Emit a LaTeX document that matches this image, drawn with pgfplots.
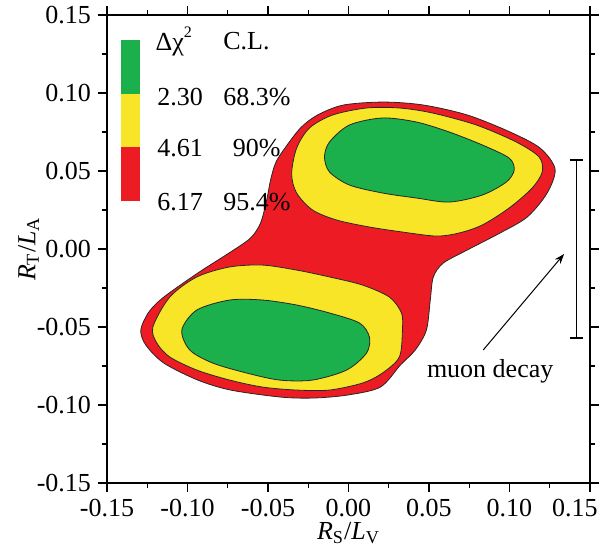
\documentclass[border=0pt]{standalone}
\usepackage{fontspec}
\setmainfont{Liberation Serif}
\usepackage{pgfplots}
\pgfplotsset{compat=1.18}
\usetikzlibrary{arrows.meta}

\definecolor{clred}{HTML}{ED1C24}
\definecolor{clyellow}{HTML}{F8E528}
\definecolor{clgreen}{HTML}{1BB04B}

\newcommand{\lblfont}{\fontsize{13}{15}\selectfont}
\tikzset{keytext/.style={font=\lblfont, anchor=west, inner sep=0pt}}

\begin{document}
\begin{tikzpicture}
\begin{axis}[
  scale only axis,
  width=241.5pt, height=234pt,
  xmin=-0.15, xmax=0.15, ymin=-0.15, ymax=0.15,
  xtick={-0.15,-0.10,-0.05,0,0.05,0.10,0.15},
  ytick={-0.15,-0.10,-0.05,0,0.05,0.10,0.15},
  xticklabels={-0.15,-0.10,-0.05,0.00,0.05,0.10,\hspace*{-15pt}0.15},
  minor tick num=1,
  tick align=outside,
  major tick length=4.5pt, minor tick length=2.5pt,
  axis line style={line width=0.6pt},
  every tick/.style={black, line width=0.6pt},
  tick label style={font=\lblfont},
  /pgf/number format/fixed,
  /pgf/number format/fixed zerofill,
  /pgf/number format/precision=2,
  /pgf/number format/assume math mode=true,
  scaled ticks=false,
  xlabel={\textit{R}\textsubscript{S}/\textit{L}\textsubscript{V}},
  ylabel={\textit{R}\textsubscript{T}/\textit{L}\textsubscript{A}},
  label style={font=\lblfont},
  xlabel style={yshift=4pt},
  ylabel style={yshift=-8pt},
]
% 95.4% C.L. region (outer contour)
\addplot[fill=clred, draw=black!85, line width=0.4pt, smooth cycle] coordinates {
  (0.0217,0.0942) (0.0465,0.0923) (0.0738,0.0859) (0.1004,0.0750)
  (0.1190,0.0647) (0.1283,0.0513) (0.1234,0.0359) (0.1110,0.0205)
  (0.0942,0.0103) (0.0738,-0.0006) (0.0589,-0.0090) (0.0527,-0.0179)
  (0.0508,-0.0327) (0.0484,-0.0519) (0.0415,-0.0647) (0.0322,-0.0744)
  (0.0198,-0.0885) (-0.0006,-0.0936) (-0.0217,-0.0955) (-0.0422,-0.0949)
  (-0.0732,-0.0904) (-0.0936,-0.0840) (-0.1147,-0.0731) (-0.1259,-0.0615)
  (-0.1290,-0.0519) (-0.1240,-0.0404) (-0.1147,-0.0308) (-0.0936,-0.0154)
  (-0.0732,-0.0019) (-0.0608,0.0071) (-0.0546,0.0167) (-0.0508,0.0314)
  (-0.0484,0.0442) (-0.0453,0.0551) (-0.0403,0.0635) (-0.0298,0.0776)
  (-0.0192,0.0859) (-0.0031,0.0923)
};
% 90% C.L., upper island
\addplot[fill=clyellow, draw=black!85, line width=0.4pt, smooth cycle] coordinates {
  (-0.0353,0.0481) (-0.0322,0.0647) (-0.0242,0.0776) (-0.0099,0.0859)
  (0.0112,0.0904) (0.0316,0.0904) (0.0521,0.0872) (0.0794,0.0795)
  (0.1042,0.0686) (0.1184,0.0590) (0.1203,0.0494) (0.1141,0.0391)
  (0.0998,0.0263) (0.0831,0.0154) (0.0688,0.0103) (0.0546,0.0083)
  (0.0335,0.0109) (0.0130,0.0141) (-0.0074,0.0186) (-0.0223,0.0250)
  (-0.0322,0.0359)
};
% 90% C.L., lower island
\addplot[fill=clyellow, draw=black!85, line width=0.4pt, smooth cycle] coordinates {
  (-0.1215,-0.0500) (-0.1190,-0.0603) (-0.1110,-0.0692) (-0.0942,-0.0776)
  (-0.0738,-0.0840) (-0.0533,-0.0885) (-0.0322,-0.0904) (-0.0118,-0.0904)
  (0.0087,-0.0859) (0.0211,-0.0795) (0.0316,-0.0692) (0.0335,-0.0519)
  (0.0329,-0.0410) (0.0254,-0.0308) (0.0087,-0.0231) (-0.0118,-0.0179)
  (-0.0322,-0.0135) (-0.0533,-0.0103) (-0.0738,-0.0115) (-0.0942,-0.0179)
  (-0.1110,-0.0308)
};
% 68.3% C.L., upper island
\addplot[fill=clgreen, draw=black!85, line width=0.4pt, smooth cycle] coordinates {
  (-0.0149,0.0590) (-0.0118,0.0686) (0.0006,0.0795) (0.0211,0.0840)
  (0.0422,0.0814) (0.0626,0.0750) (0.0831,0.0667) (0.0998,0.0583)
  (0.1029,0.0506) (0.0980,0.0429) (0.0831,0.0346) (0.0626,0.0301)
  (0.0422,0.0327) (0.0211,0.0359) (0.0006,0.0410) (-0.0118,0.0494)
};
% 68.3% C.L., lower island
\addplot[fill=clgreen, draw=black!85, line width=0.4pt, smooth cycle] coordinates {
  (-0.1035,-0.0519) (-0.0986,-0.0647) (-0.0843,-0.0731) (-0.0632,-0.0795)
  (-0.0428,-0.0840) (-0.0223,-0.0840) (-0.0012,-0.0776) (0.0112,-0.0667)
  (0.0130,-0.0564) (0.0068,-0.0474) (-0.0118,-0.0410) (-0.0322,-0.0359)
  (-0.0533,-0.0327) (-0.0738,-0.0327) (-0.0942,-0.0391)
};
% muon decay constraint
\addplot[black, line width=0.6pt, mark=none,
  error bars/.cd, y dir=both, y explicit,
  error bar style={line width=0.6pt},
  error mark options={rotate=90, mark size=3.25pt, line width=1.1pt}]
  coordinates {(0.1414,0) +- (0,0.057)};
\draw[-{Stealth[length=5pt,width=3.6pt]}, line width=0.5pt]
  (axis cs:0.0837,-0.0647) -- (axis cs:0.1339,-0.0032);
\node[font=\lblfont, anchor=center] at (axis cs:0.088,-0.0785) {muon decay};

% colour key
\fill[clgreen]  (axis cs:-0.1413,0.1340) rectangle (axis cs:-0.1296,0.0994);
\fill[clyellow] (axis cs:-0.1413,0.0994) rectangle (axis cs:-0.1296,0.0654);
\fill[clred]    (axis cs:-0.1413,0.0654) rectangle (axis cs:-0.1296,0.0308);
\node[keytext] at (axis cs:-0.1200,0.1330) {Δχ\raisebox{1.1ex}{\fontsize{8}{8}\selectfont 2}};
\node[keytext] at (axis cs:-0.0780,0.1330) {C.L.};
\node[keytext] at (axis cs:-0.1190,0.0974) {2.30};
\node[keytext] at (axis cs:-0.0780,0.0974) {68.3\%};
\node[keytext] at (axis cs:-0.1190,0.0647) {4.61};
\node[keytext] at (axis cs:-0.0720,0.0647) {90\%};
\node[keytext] at (axis cs:-0.1190,0.0300) {6.17};
\node[keytext] at (axis cs:-0.0780,0.0300) {95.4\%};

\coordinate (bbSW) at (rel axis cs:-0.2215,-0.1432);
\coordinate (bbNE) at (rel axis cs:1.0207,1.0321);
\end{axis}
\pgfresetboundingbox
\path (bbSW) rectangle (bbNE);
\end{tikzpicture}
\end{document}
